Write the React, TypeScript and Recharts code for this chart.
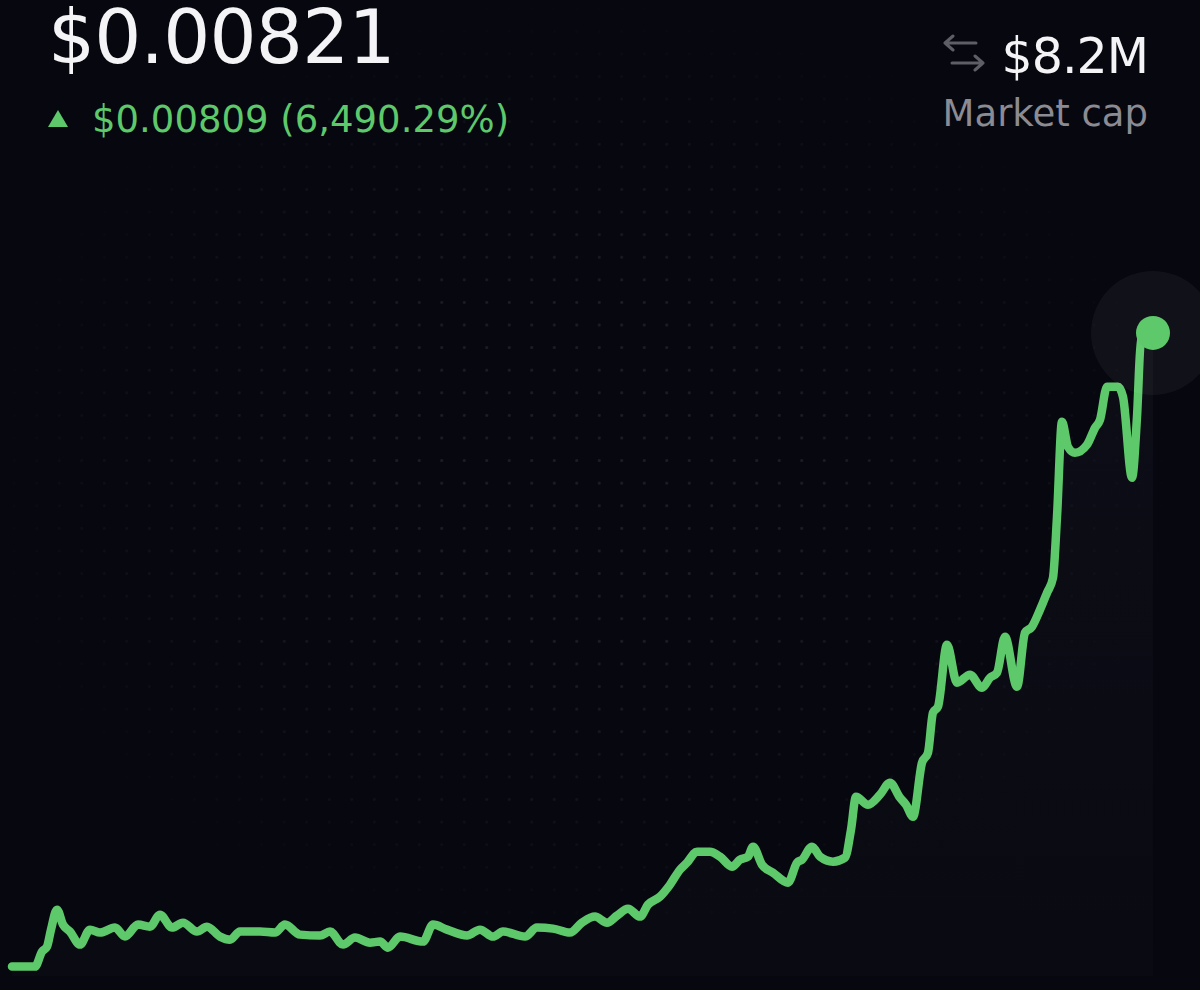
import React from 'react';
import { AreaChart, Area, XAxis, YAxis, ReferenceDot } from 'recharts';

// time offset (arbitrary units, left to right) and price in USD
const times = [
  0, 23, 30, 35, 39, 45, 51, 58, 68, 78, 88, 103, 113, 126, 138, 148, 160, 171, 185, 195,
  208, 218, 228, 248, 263, 273, 288, 308, 318, 331, 343, 358, 368, 376, 388, 411, 421, 435, 455, 468,
  481, 491, 513, 525, 541, 558, 570, 583, 595, 605, 616, 628, 636, 648, 658, 668, 675, 685, 698, 708,
  720, 728, 736, 741, 750, 761, 776, 785, 790, 800, 808, 821, 833, 839, 844, 856, 868, 878, 888, 894,
  901, 910, 916, 921, 926, 935, 945, 958, 970, 978, 985, 993, 1005, 1013, 1020, 1028, 1035, 1041, 1045, 1050,
  1056, 1063, 1075, 1083, 1088, 1095, 1106, 1111, 1120, 1125, 1129, 1141,
];

const prices = [
  0.00012, 0.00012, 0.000311, 0.000375, 0.000592, 0.000847, 0.000656, 0.000567, 0.000401, 0.000592,
  0.000554, 0.000618, 0.000503, 0.000656, 0.00063, 0.000783, 0.000618, 0.000681, 0.000567, 0.00063,
  0.000503, 0.000464, 0.000567, 0.000567, 0.000554, 0.000656, 0.000528, 0.000516, 0.000567, 0.000401,
  0.00049, 0.000426, 0.000439, 0.000362, 0.000503, 0.000439, 0.000656, 0.000592, 0.000516, 0.000592,
  0.000503, 0.000567, 0.000503, 0.000618, 0.000605, 0.000554, 0.000681, 0.000758, 0.000681, 0.000771,
  0.00086, 0.000758, 0.000911, 0.001013, 0.001166, 0.001358, 0.001447, 0.001587, 0.001587, 0.001524,
  0.001396, 0.001485, 0.001524, 0.001651, 0.001421, 0.001319, 0.001192, 0.001447, 0.001485, 0.001651,
  0.001524, 0.00146, 0.001511, 0.001868, 0.002289, 0.002187, 0.002315, 0.002468, 0.002276, 0.002187,
  0.002034, 0.002723, 0.002851, 0.003361, 0.003438, 0.004229, 0.003744, 0.003846, 0.00368, 0.003808,
  0.003871, 0.004331, 0.003693, 0.004382, 0.004459, 0.004675, 0.004892, 0.005084, 0.005862, 0.007074,
  0.006755, 0.006679, 0.006781, 0.006998, 0.0071, 0.007521, 0.007521, 0.007393, 0.00636, 0.007138,
  0.008121, 0.00821,
];

const priceLabel = '$0.00821';
const changeLabel = '$0.00809 (6,490.29%)';
const capValue = '$8.2M';
const capLabel = 'Market cap';

const GREEN = '#5dc96b';
const FONT = '"DejaVu Sans", sans-serif';

const App: React.FC = () => {
  const data = times.map((t, i) => ({ t, price: prices[i] }));
  const last = data[data.length - 1];

  return (
    <div
      style={{
        position: 'absolute',
        top: 0,
        left: 0,
        width: 1200,
        height: 990,
        background: '#07070f',
        overflow: 'hidden',
        fontFamily: FONT,
      }}
    >
      {/* faint dotted backdrop */}
      <div
        style={{
          position: 'absolute',
          inset: 0,
          backgroundImage: 'radial-gradient(circle, rgba(255,255,255,0.09) 1.2px, transparent 1.8px)',
          backgroundSize: '22.5px 22.6px',
          backgroundPosition: '3px 20px',
          WebkitMaskImage: 'radial-gradient(ellipse 52% 50% at 48% 48%, #000 35%, transparent 100%)',
          maskImage: 'radial-gradient(ellipse 52% 50% at 48% 48%, #000 35%, transparent 100%)',
        }}
      />

      <div style={{ position: 'absolute', top: 0, left: 0 }}>
        <AreaChart width={1200} height={990} data={data} margin={{ top: 36, right: 47, bottom: 14, left: 12 }}>
          <defs>
            <linearGradient id="fade" x1="0" y1="0" x2="0" y2="1">
              <stop offset="0%" stopColor="#8fa4c0" stopOpacity={0.065} />
              <stop offset="100%" stopColor="#8fa4c0" stopOpacity={0.03} />
            </linearGradient>
          </defs>
          <XAxis dataKey="t" type="number" domain={[0, 1141]} hide />
          <YAxis type="number" domain={[0, 0.012]} hide />
          <ReferenceDot x={last.t} y={last.price} r={62} fill="#ffffff" fillOpacity={0.045} stroke="none" />
          <Area
            type="monotone"
            dataKey="price"
            stroke={GREEN}
            strokeWidth={8.5}
            strokeLinecap="round"
            strokeLinejoin="round"
            fill="url(#fade)"
            dot={false}
            activeDot={false}
            isAnimationActive={false}
          />
          <ReferenceDot x={last.t} y={last.price} r={17} fill={GREEN} stroke="none" />
        </AreaChart>
      </div>

      {/* header */}
      <div
        style={{
          position: 'absolute',
          left: 48,
          top: -3,
          fontSize: 74,
          lineHeight: 1.1,
          letterSpacing: -0.8,
          color: '#f4f4f6',
        }}
      >
        {priceLabel}
      </div>
      <svg style={{ position: 'absolute', left: 48, top: 110 }} width={20} height={17}>
        <polygon points="10,0 20,17 0,17" fill={GREEN} />
      </svg>
      <div
        style={{
          position: 'absolute',
          left: 92,
          top: 100.7,
          fontSize: 37,
          lineHeight: 1,
          color: GREEN,
        }}
      >
        {changeLabel}
      </div>

      <svg style={{ position: 'absolute', left: 940, top: 34 }} width={48} height={38}>
        <g stroke="#5e5e66" strokeWidth={3} fill="none" strokeLinecap="round" strokeLinejoin="round">
          <path d="M5 9 H36 M13 2 L5 9 L13 16" />
          <path d="M12 29 H43 M35 22 L43 29 L35 36" />
        </g>
      </svg>
      <div
        style={{
          position: 'absolute',
          right: 52,
          top: 31.5,
          fontSize: 49,
          lineHeight: 1,
          letterSpacing: -1,
          color: '#f4f4f6',
          textAlign: 'right',
        }}
      >
        {capValue}
      </div>
      <div
        style={{
          position: 'absolute',
          right: 52,
          top: 95.2,
          fontSize: 37,
          lineHeight: 1,
          color: '#8b8b93',
          textAlign: 'right',
        }}
      >
        {capLabel}
      </div>
    </div>
  );
};

export default App;
